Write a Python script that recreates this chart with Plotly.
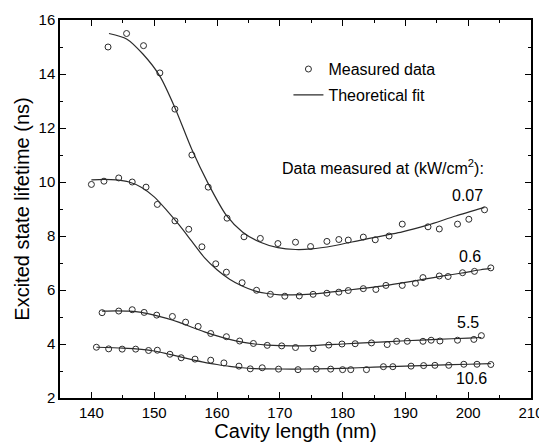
import plotly.graph_objects as go

# ---------------- data ----------------
power_labels = ["0.07", "0.6", "5.5", "10.6"]

# measured data, 0.07 kW/cm2
meas_x_007 = [142.65, 145.6, 148.3, 150.9, 153.3, 156.0, 158.6, 161.6, 164.3, 166.9, 169.7,
              172.5, 174.9, 177.5, 179.4, 180.9, 183.3, 185.2, 187.4, 189.5, 193.6, 195.4,
              198.3, 200.1, 202.6]
meas_y_007 = [15.0, 15.5, 15.05, 14.04, 12.7, 11.0, 9.81, 8.66, 7.97, 7.91, 7.72,
              7.77, 7.61, 7.80, 7.87, 7.85, 7.96, 7.86, 8.0, 8.44, 8.34, 8.26,
              8.44, 8.62, 8.97]

# measured data, 0.6 kW/cm2
meas_x_06 = [140.0, 142.0, 144.35, 146.5, 148.7, 150.5, 153.3, 155.5, 157.6, 159.8, 161.5,
             164.0, 166.3, 168.5, 170.8, 173.1, 175.3, 177.5, 179.4, 180.9, 183.3, 185.3,
             186.9, 189.5, 191.6, 192.8, 195.4, 196.8, 199.1, 201.0, 203.6]
meas_y_06 = [9.91, 10.03, 10.15, 10.0, 9.81, 9.17, 8.56, 8.25, 7.6, 6.97, 6.66,
             6.27, 5.99, 5.84, 5.77, 5.78, 5.84, 5.88, 5.92, 5.98, 6.05, 6.02,
             6.17, 6.17, 6.25, 6.46, 6.52, 6.50, 6.64, 6.69, 6.82]

# measured data, 5.5 kW/cm2
meas_x_55 = [141.7, 144.35, 146.5, 148.4, 150.4, 152.9, 155.0, 157.0, 159.0, 161.5, 163.6,
             165.8, 168.0, 170.3, 172.5, 175.3, 177.8, 179.9, 182.0, 184.6, 187.1, 188.6,
             190.3, 192.8, 194.1, 195.5, 198.3, 200.9, 202.1]
meas_y_55 = [5.16, 5.22, 5.27, 5.17, 5.07, 5.02, 4.81, 4.65, 4.39, 4.27, 4.11,
             4.02, 3.95, 3.93, 3.87, 3.83, 3.96, 4.0, 4.01, 4.04, 3.98, 4.10,
             4.10, 4.10, 4.14, 4.11, 4.14, 4.17, 4.31]

# measured data, 10.6 kW/cm2
meas_x_106 = [140.8, 142.75, 144.9, 147.05, 149.1, 150.5, 152.5, 154.3, 156.5, 159.0, 161.1,
              163.5, 165.3, 167.2, 169.8, 172.9, 175.8, 178.1, 180.0, 181.3, 183.8, 186.5,
              188.0, 190.9, 192.9, 194.7, 196.9, 199.3, 201.4, 203.6]
meas_y_106 = [3.88, 3.82, 3.81, 3.81, 3.76, 3.77, 3.62, 3.49, 3.44, 3.40, 3.30,
              3.18, 3.08, 3.12, 3.07, 3.05, 3.07, 3.07, 3.05, 3.05, 3.05, 3.16,
              3.16, 3.18, 3.20, 3.21, 3.21, 3.25, 3.25, 3.24]

# theoretical fits
fit_x_007 = [142.8, 145.6, 148.2, 150.9, 153.3, 156.0, 158.6, 161.5, 164.1, 166.8, 169.7,
             172.5, 175.0, 178.6, 183.0, 189.5, 193.5, 198.0, 202.6]
fit_y_007 = [15.5, 15.3, 14.74, 13.92, 12.75, 11.2, 9.94, 8.76, 8.14, 7.78, 7.57,
             7.5, 7.52, 7.64, 7.85, 8.15, 8.4, 8.74, 9.06]

fit_x_06 = [140.0, 142.0, 144.0, 146.0, 148.0, 150.0, 152.0, 154.0, 156.0, 158.0, 160.0,
            162.0, 164.0, 166.0, 168.0, 170.0, 172.0, 175.0, 178.0, 181.0, 184.0, 187.0,
            190.0, 193.0, 196.0, 199.0, 202.0, 203.6]
fit_y_06 = [10.08, 10.1, 10.08, 10.0, 9.8, 9.45, 8.95, 8.4, 7.8, 7.2, 6.75,
            6.4, 6.15, 5.97, 5.87, 5.82, 5.82, 5.85, 5.92, 6.0, 6.08, 6.17,
            6.28, 6.4, 6.52, 6.63, 6.75, 6.8]

fit_x_55 = [141.7, 144.0, 146.0, 148.0, 150.0, 152.0, 154.0, 156.0, 158.0, 160.0, 162.0,
            164.0, 166.0, 168.0, 172.0, 176.0, 180.0, 185.0, 190.0, 195.0, 200.0, 202.1]
fit_y_55 = [5.22, 5.23, 5.22, 5.17, 5.07, 4.95, 4.8, 4.62, 4.45, 4.3, 4.17,
            4.07, 4.0, 3.96, 3.93, 3.95, 4.0, 4.06, 4.12, 4.17, 4.22, 4.24]

fit_x_106 = [140.8, 145.0, 148.0, 150.0, 152.0, 154.0, 156.0, 158.0, 160.0, 162.0, 164.0,
             166.0, 168.0, 172.0, 176.0, 180.0, 185.0, 190.0, 195.0, 200.0, 203.6]
fit_y_106 = [3.88, 3.85, 3.8, 3.74, 3.64, 3.53, 3.42, 3.32, 3.24, 3.17, 3.12,
             3.09, 3.08, 3.07, 3.08, 3.1, 3.14, 3.18, 3.22, 3.25, 3.27]

x_ticks = [140, 150, 160, 170, 180, 190, 200, 210]
y_ticks = [2, 4, 6, 8, 10, 12, 14, 16]

# ---------------- figure ----------------
INK = "#2b2b2b"
FONT = "Arial, Liberation Sans, sans-serif"

fig = go.Figure()

measured = [(meas_x_007, meas_y_007), (meas_x_06, meas_y_06),
            (meas_x_55, meas_y_55), (meas_x_106, meas_y_106)]
fits = [(fit_x_007, fit_y_007), (fit_x_06, fit_y_06),
        (fit_x_55, fit_y_55), (fit_x_106, fit_y_106)]

for i, ((fx, fy), lab) in enumerate(zip(fits, power_labels)):
    fig.add_trace(go.Scatter(
        x=fx, y=fy, mode="lines", name="Theoretical fit",
        legendgroup="fit", showlegend=(i == 0), legendrank=2,
        line=dict(color=INK, width=1.2, shape="spline", smoothing=0.7),
        hoverinfo="skip"))

for i, ((mx, my), lab) in enumerate(zip(measured, power_labels)):
    fig.add_trace(go.Scatter(
        x=mx, y=my, mode="markers", name="Measured data",
        legendgroup="meas", showlegend=(i == 0), legendrank=1,
        marker=dict(symbol="circle-open", size=6, color=INK, line=dict(width=1, color=INK))))

# text annotations
fig.add_annotation(x=202.8, y=10.54, xref="x", yref="y", showarrow=False,
                   xanchor="right", yanchor="middle",
                   text="Data measured at (kW/cm<sup>2</sup>):",
                   font=dict(size=16, color="black", family=FONT))
label_pos = [(202.6, 9.51), (202.3, 7.23), (202.1, 4.81), (203.3, 2.74)]
for lab, (lx, ly) in zip(power_labels, label_pos):
    fig.add_annotation(x=lx, y=ly, xref="x", yref="y", showarrow=False,
                       xanchor="right", yanchor="middle", text=lab,
                       font=dict(size=16, color="black", family=FONT))

axis_common = dict(
    showline=True, linecolor="black", linewidth=1.5, mirror="ticks",
    ticks="inside", ticklen=6, tickwidth=1.3, tickcolor="black",
    showgrid=False, zeroline=False, automargin=False,
    tickfont=dict(size=15, color="black", family=FONT),
)

fig.update_xaxes(range=[135, 210], tickvals=x_ticks,
                 minor=dict(dtick=5, ticks="inside", ticklen=3, tickwidth=1.3, tickcolor="black", showgrid=False),
                 title=dict(text="Cavity length (nm)", font=dict(size=20, color="black", family=FONT), standoff=0),
                 **axis_common)
fig.update_yaxes(range=[2, 16], tickvals=y_ticks,
                 minor=dict(dtick=1, ticks="inside", ticklen=3, tickwidth=1.3, tickcolor="black", showgrid=False),
                 title=dict(text="Excited state lifetime (ns)", font=dict(size=20, color="black", family=FONT), standoff=4),
                 **axis_common)

# the page body adds an 8px offset, so the figure is 8px smaller with margins shifted
fig.update_layout(
    width=539, height=434,
    margin=dict(l=52, r=16, t=12, b=44, autoexpand=False),
    paper_bgcolor="white", plot_bgcolor="white",
    font=dict(family=FONT, color="black"),
    legend=dict(x=0.485, y=0.915, xanchor="left", yanchor="top",
                bgcolor="rgba(0,0,0,0)", borderwidth=0,
                font=dict(size=16, color="black", family=FONT),
                traceorder="grouped", tracegroupgap=2),
    showlegend=True,
)

fig.write_html("out.html")
